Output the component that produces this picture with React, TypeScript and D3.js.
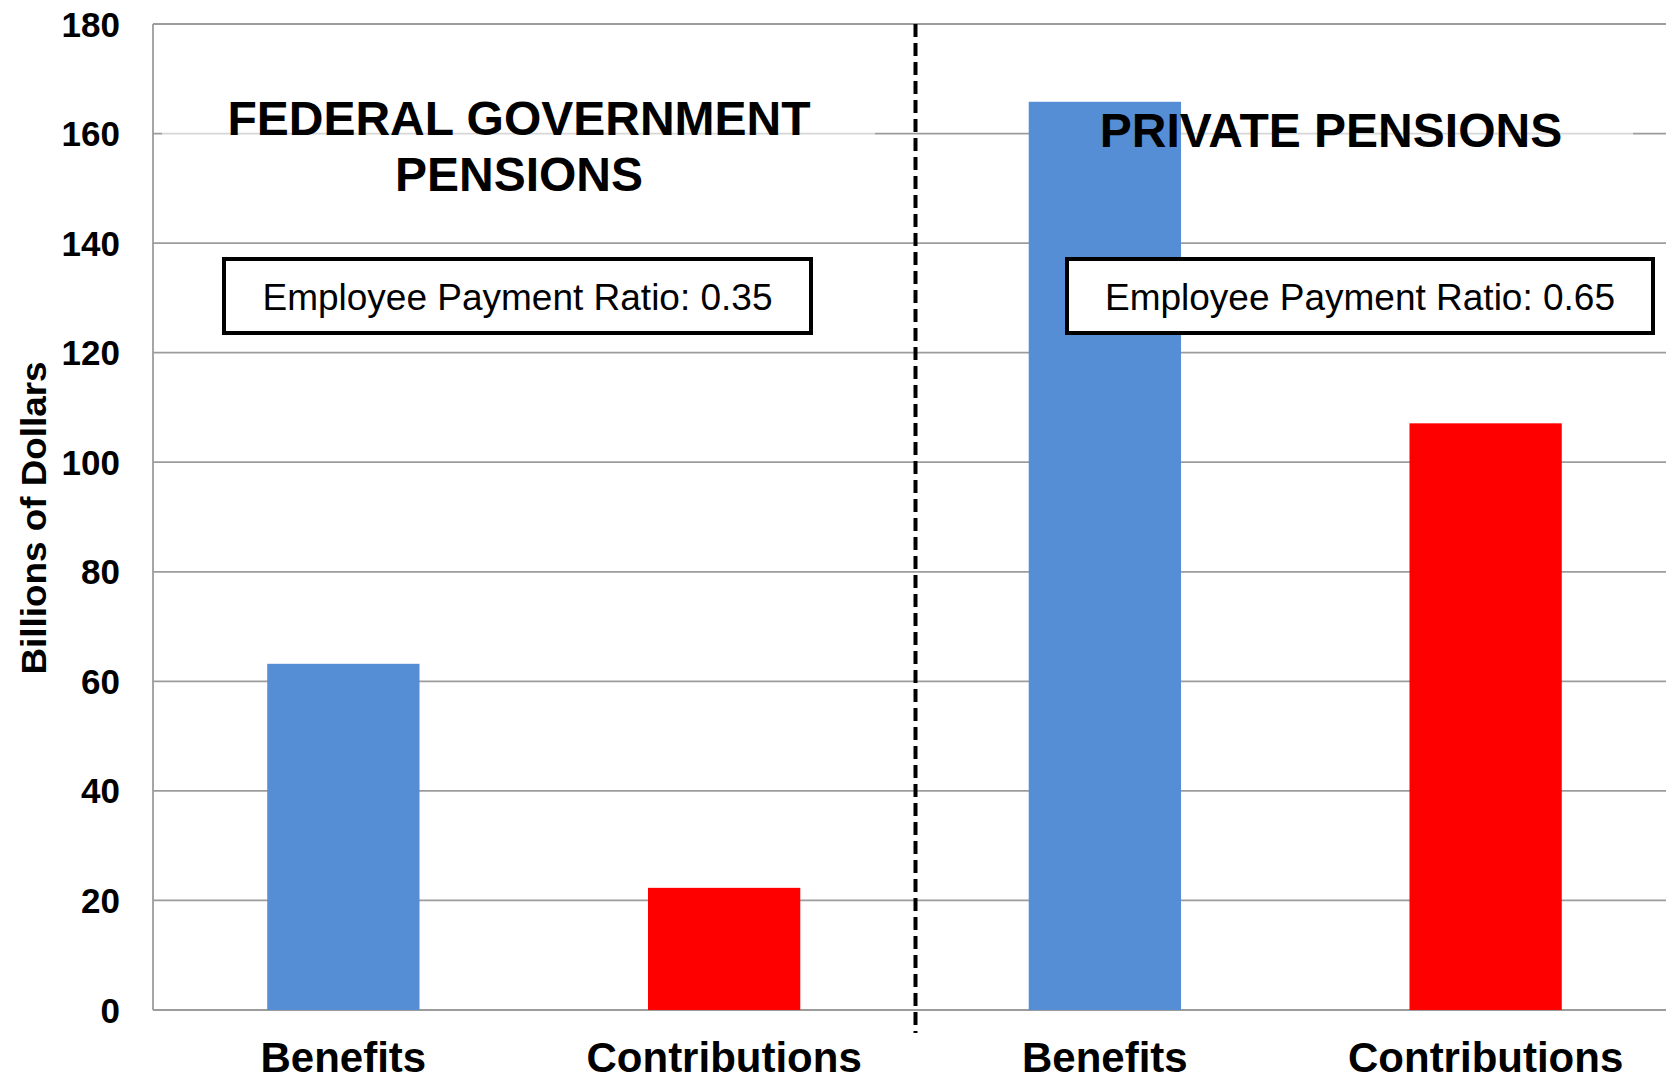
import React, { useEffect, useRef } from 'react';
import * as d3 from 'd3';

// chart data
const categories = ['Benefits', 'Contributions', 'Benefits', 'Contributions'];
const values = [63.2, 22.3, 165.8, 107.1];
const barColors = ['#558ED5', '#FF0000', '#558ED5', '#FF0000'];
const groupTitles = [['FEDERAL GOVERNMENT', 'PENSIONS'], ['PRIVATE PENSIONS']];
const ratioLabels = ['Employee Payment Ratio: 0.35', 'Employee Payment Ratio: 0.65'];
const yTicks = [0, 20, 40, 60, 80, 100, 120, 140, 160, 180];

const W = 1666;
const H = 1081;
const FONT = "'Liberation Sans', Arial, Helvetica, sans-serif";

export default function App() {
    const svgRef = useRef<SVGSVGElement>(null);

    useEffect(() => {
        if (!svgRef.current) return;
        const svg = d3.select(svgRef.current);
        svg.selectAll('*').remove();

        const left = 153;
        const right = 1676; // plot runs a little past the picture edge
        const top = 24;
        const bottom = 1010;

        const x = d3.scaleBand<number>()
            .domain(d3.range(categories.length))
            .range([left, right])
            .paddingInner(0.6)
            .paddingOuter(0.3);
        const y = d3.scaleLinear().domain([0, 180]).range([bottom, top]);

        const step = x.step();

        // gridlines
        svg.append('g')
            .selectAll('line')
            .data(yTicks)
            .enter().append('line')
            .attr('x1', left).attr('x2', right)
            .attr('y1', d => y(d)).attr('y2', d => y(d))
            .attr('stroke', '#9c9c9c')
            .attr('stroke-width', 1.8);

        // left axis line
        svg.append('line')
            .attr('x1', left).attr('x2', left)
            .attr('y1', y(180)).attr('y2', y(0))
            .attr('stroke', '#9c9c9c')
            .attr('stroke-width', 1.8);

        // semi-transparent title text boxes (lighten the gridline behind)
        const titleBoxes = [
            { x: 162, y: 88, w: 713, h: 112 },
            { x: 1181, y: 100, w: 452, h: 87 },
        ];
        svg.append('g')
            .selectAll('rect')
            .data(titleBoxes)
            .enter().append('rect')
            .attr('x', d => d.x).attr('y', d => d.y)
            .attr('width', d => d.w).attr('height', d => d.h)
            .attr('fill', '#fff')
            .attr('opacity', 0.6);

        // bars
        svg.append('g')
            .selectAll('rect')
            .data(values)
            .enter().append('rect')
            .attr('x', (_, i) => x(i)!)
            .attr('y', d => y(d))
            .attr('width', x.bandwidth())
            .attr('height', d => y(0) - y(d))
            .attr('fill', (_, i) => barColors[i]);

        // dashed divider between the two groups
        const divX = left + step * 2 + 1;
        svg.append('line')
            .attr('x1', divX).attr('x2', divX)
            .attr('y1', y(180)).attr('y2', y(0) + 23)
            .attr('stroke', '#000')
            .attr('stroke-width', 4)
            .attr('stroke-dasharray', '13,6');

        // y tick labels
        svg.append('g')
            .selectAll('text')
            .data(yTicks)
            .enter().append('text')
            .attr('x', 120)
            .attr('y', d => y(d))
            .attr('dy', '0.36em')
            .attr('text-anchor', 'end')
            .style('font-family', FONT)
            .style('font-weight', 'bold')
            .style('font-size', '35px')
            .text(d => d);

        // y axis title
        svg.append('text')
            .attr('transform', 'translate(46,518) rotate(-90)')
            .attr('text-anchor', 'middle')
            .attr('textLength', 313)
            .attr('lengthAdjust', 'spacingAndGlyphs')
            .style('font-family', FONT)
            .style('font-weight', 'bold')
            .style('font-size', '35px')
            .text('Billions of Dollars');

        // category labels
        svg.append('g')
            .selectAll('text')
            .data(categories)
            .enter().append('text')
            .attr('x', (_, i) => x(i)! + x.bandwidth() / 2)
            .attr('y', 1072)
            .attr('text-anchor', 'middle')
            .style('font-family', FONT)
            .style('font-weight', 'bold')
            .style('font-size', '42px')
            .text(d => d);

        // group titles
        const titlePos = [{ cx: 519, y0: 135 }, { cx: 1331, y0: 147 }];
        groupTitles.forEach((lines, gi) => {
            const t = svg.append('text')
                .attr('text-anchor', 'middle')
                .style('font-family', FONT)
                .style('font-weight', 'bold')
                .style('font-size', '48px');
            lines.forEach((ln, li) => {
                t.append('tspan')
                    .attr('x', titlePos[gi].cx)
                    .attr('y', titlePos[gi].y0 + li * 56)
                    .text(ln);
            });
        });

        // ratio boxes
        const ratioBoxes = [{ x: 224, w: 587 }, { x: 1067, w: 586 }];
        ratioBoxes.forEach((b, i) => {
            svg.append('rect')
                .attr('x', b.x).attr('y', 259)
                .attr('width', b.w).attr('height', 74)
                .attr('fill', '#fff')
                .attr('stroke', '#000')
                .attr('stroke-width', 4);
            svg.append('text')
                .attr('x', b.x + b.w / 2)
                .attr('y', 310)
                .attr('text-anchor', 'middle')
                .style('font-family', FONT)
                .style('font-size', '37px')
                .text(ratioLabels[i]);
        });
    }, []);

    return (
        <svg
            ref={svgRef}
            width={W}
            height={H}
            style={{ position: 'absolute', left: 0, top: 0, background: '#fff', display: 'block' }}
        />
    );
}
